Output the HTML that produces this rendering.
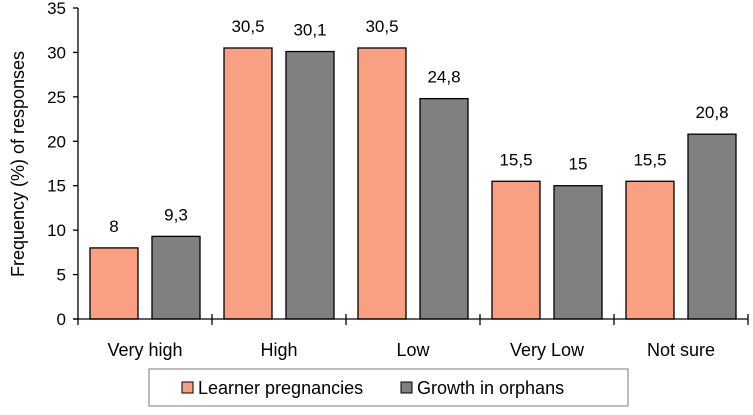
<!DOCTYPE html>
<html><head><meta charset="utf-8"><style>
body{margin:0;background:#fff;}
svg text{font-family:"Liberation Sans",sans-serif;fill:#000;}
</style></head><body>
<svg id="chart" width="753" height="410" xmlns="http://www.w3.org/2000/svg"></svg>
<script>
const categories=["Very high","High","Low","Very Low","Not sure"];
const learner=[8,30.5,30.5,15.5,15.5];
const orphans=[9.3,30.1,24.8,15,20.8];
const learnerLabels=["8","30,5","30,5","15,5","15,5"];
const orphanLabels=["9,3","30,1","24,8","15","20,8"];
const yTicks=[0,5,10,15,20,25,30,35];
const svg=document.getElementById('chart');
const NS="http://www.w3.org/2000/svg";
const x0=78,catW=134,y0=319,yTop=8,yMax=35;
const y=v=>y0-(v/yMax)*(y0-yTop);
function mk(t,a,txt){const e=document.createElementNS(NS,t);for(const k in a)e.setAttribute(k,a[k]);if(txt!==undefined)e.textContent=txt;svg.appendChild(e);return e;}
yTicks.forEach(v=>{
 const t=mk('line',{x1:x0-5,x2:x0,y1:y(v),y2:y(v),stroke:'#000','stroke-width':1.3});
 
 
 const l=mk('text',{x:x0-12,y:y(v)+6,'text-anchor':'end','font-size':17},String(v));
 
 
});
categories.forEach((c,i)=>{
 const cx=x0+catW*i;
 const bw=48;
 const b1=mk('rect',{x:cx+12,y:y(learner[i]),width:bw,height:y0-y(learner[i]),fill:'#F9A083',stroke:'#000','stroke-width':1.3});
 
 
 const b2=mk('rect',{x:cx+74,y:y(orphans[i]),width:bw,height:y0-y(orphans[i]),fill:'#808080',stroke:'#000','stroke-width':1.3});
 
 
 const v1=mk('text',{x:cx+36,y:y(learner[i])-16,'text-anchor':'middle','font-size':17},learnerLabels[i]);
 
 
 const v2=mk('text',{x:cx+98,y:y(orphans[i])-16,'text-anchor':'middle','font-size':17},orphanLabels[i]);
 
 
 const cl=mk('text',{x:cx+catW/2,y:356,'text-anchor':'middle','font-size':18},c);
 
 
 const tk=mk('line',{x1:cx+catW,x2:cx+catW,y1:y0-5,y2:y0+6,stroke:'#000','stroke-width':1.3});
 
 
});
const ya=mk('line',{x1:x0,x2:x0,y1:yTop,y2:y0+6,stroke:'#000','stroke-width':1.3});


const xa=mk('line',{x1:x0-5,x2:x0+catW*5,y1:y0,y2:y0,stroke:'#000','stroke-width':1.3});


const yt=mk('text',{x:0,y:0,'text-anchor':'middle','font-size':18,transform:'translate(24,164) rotate(-90)'},'Frequency (%) of responses');


const lg=mk('rect',{x:149,y:369,width:479,height:37,fill:'#fff',stroke:'#999','stroke-width':1.3});


const s1=mk('rect',{x:182,y:382,width:11,height:11,fill:'#F9A083',stroke:'#000'});


const t1=mk('text',{x:198,y:394,'font-size':18},'Learner pregnancies');


const s2=mk('rect',{x:401,y:382,width:11,height:11,fill:'#808080',stroke:'#000'});


const t2=mk('text',{x:417,y:394,'font-size':18},'Growth in orphans');


</script>
</body></html>
